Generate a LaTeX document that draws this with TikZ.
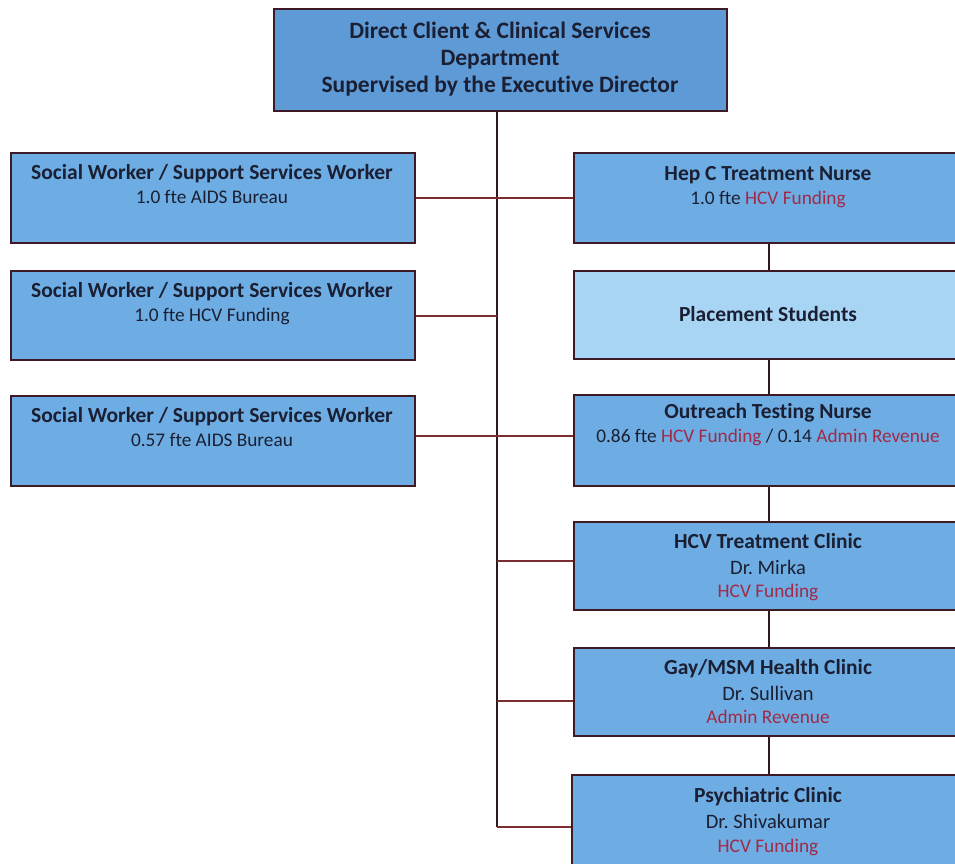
\documentclass[tikz,border=0pt]{standalone}
\usepackage{fontspec}
\setmainfont{Carlito}[Ligatures=NoCommon]
\usetikzlibrary{calc}

\definecolor{boxblue}{HTML}{6DADE3}
\definecolor{topblue}{HTML}{5E9BD6}
\definecolor{paleblue}{HTML}{A9D5F5}
\definecolor{edge}{HTML}{3E1A26}
\definecolor{linkred}{HTML}{7A2C30}
\definecolor{trunkdark}{HTML}{2E1A1E}
\definecolor{fundred}{HTML}{A12A48}
\definecolor{ink}{HTML}{1B1F33}

\tikzset{
  unitbox/.style={draw=edge, line width=2pt, fill=boxblue, inner sep=0pt,
                  anchor=north west},
  headbox/.style={unitbox, fill=topblue},
  palebox/.style={unitbox, fill=paleblue},
  headtxt/.style={anchor=base, inner sep=0pt, text=ink,
                  font=\fontsize{23.5}{27}\selectfont\bfseries},
  titletxt/.style={anchor=base, inner sep=0pt, text=ink,
                   font=\fontsize{21.5}{25}\selectfont\bfseries},
  nametxt/.style={anchor=base, inner sep=0pt, text=ink,
                  font=\fontsize{20.5}{24}\selectfont},
  subtxt/.style={anchor=base, inner sep=0pt, text=ink,
                 font=\fontsize{19.3}{23}\selectfont},
  link/.style={draw=linkred, line width=2pt},
  trunk/.style={draw=trunkdark, line width=2pt},
  chain/.style={draw=trunkdark, line width=2pt}
}
\newcommand{\fund}[1]{\textcolor{fundred}{#1}}

\begin{document}
\begin{tikzpicture}[x=1pt, y=-1pt]
  \path[use as bounding box] (0,0) rectangle (955,864);
  \clip (0,0) rectangle (955,864);
  \fill[white] (0,0) rectangle (955,864);

  % department head
  \node[headbox, minimum width=453pt, minimum height=102pt] (head) at (273,8) {};
  \node[headtxt] (head1) at (500,39) {Direct Client \& Clinical Services};
  \node[headtxt] (head2) at (500,66) {Department};
  \node[headtxt] (head3) at (500,93) {Supervised by the Executive Director};

  % left column: social workers
  \node[unitbox, minimum width=404pt, minimum height=90pt] (sw1) at (10,152) {};
  \node[titletxt] (sw1a) at (212,179) {Social Worker / Support Services Worker};
  \node[subtxt]   (sw1b) at (212,203) {1.0 fte AIDS Bureau};

  \node[unitbox, minimum width=404pt, minimum height=89pt] (sw2) at (10,270) {};
  \node[titletxt] (sw2a) at (212,297) {Social Worker / Support Services Worker};
  \node[subtxt]   (sw2b) at (212,321) {1.0 fte HCV Funding};

  \node[unitbox, minimum width=404pt, minimum height=90pt] (sw3) at (10,395) {};
  \node[titletxt] (sw3a) at (212,422) {Social Worker / Support Services Worker};
  \node[subtxt]   (sw3b) at (212,446) {0.57 fte AIDS Bureau};

  % right column: nursing, students and clinics
  \node[unitbox, minimum width=390pt, minimum height=90pt] (hep) at (573,152) {};
  \node[titletxt] (hepa) at (768,180) {Hep C Treatment Nurse};
  \node[subtxt]   (hepb) at (768,204) {1.0 fte \fund{HCV Funding}};

  \node[palebox, minimum width=390pt, minimum height=88pt] (stud) at (573,270) {};
  \node[titletxt] (studa) at (768,321) {Placement Students};

  \node[unitbox, minimum width=390pt, minimum height=91pt] (out) at (573,394) {};
  \node[titletxt] (outa) at (768,418) {Outreach Testing Nurse};
  \node[subtxt]   (outb) at (768,442) {0.86 fte \fund{HCV Funding} / 0.14 \fund{Admin Revenue}};

  \node[unitbox, minimum width=390pt, minimum height=88pt] (hcv) at (573,521) {};
  \node[titletxt] (hcva) at (768,548) {HCV Treatment Clinic};
  \node[nametxt]  (hcvb) at (768,574) {Dr.\ Mirka};
  \node[subtxt]   (hcvc) at (768,597) {\fund{HCV Funding}};

  \node[unitbox, minimum width=390pt, minimum height=88pt] (gay) at (573,647) {};
  \node[titletxt] (gaya) at (768,674) {Gay/MSM Health Clinic};
  \node[nametxt]  (gayb) at (768,700) {Dr.\ Sullivan};
  \node[subtxt]   (gayc) at (768,723) {\fund{Admin Revenue}};

  \node[unitbox, minimum width=392pt, minimum height=90pt] (psy) at (571,774) {};
  \node[titletxt] (psya) at (768,802) {Psychiatric Clinic};
  \node[nametxt]  (psyb) at (768,828) {Dr.\ Shivakumar};
  \node[subtxt]   (psyc) at (768,852) {\fund{HCV Funding}};

  % points on the main trunk
  \coordinate (tsw2) at (497,316);
  \coordinate (thcv) at (497,561);
  \coordinate (tgay) at (497,701);
  \coordinate (tend) at (497,827);

  % main trunk from the department head
  \draw[trunk] (head.south -| tend) -- (tend);

  % branches to the side units
  \draw[link] (sw1.east) -- (hep.west);
  \draw[link] (sw2.east |- tsw2) -- (tsw2);
  \draw[link] (sw3.east |- 0,436) -- (out.west |- 0,436);
  \draw[link] (thcv) -- (hcv.west |- thcv);
  \draw[link] (tgay) -- (gay.west |- tgay);
  \draw[link] (tend) -- (psy.west |- tend);

  % right column chain
  \draw[chain] (hep.south) -- (stud.north);
  \draw[chain] (stud.south) -- (out.north);
  \draw[chain] (out.south) -- (hcv.north);
  \draw[chain] (hcv.south) -- (gay.north);
  \draw[chain] (gay.south) -- (psy.north -| gay.south);
\end{tikzpicture}
\end{document}
